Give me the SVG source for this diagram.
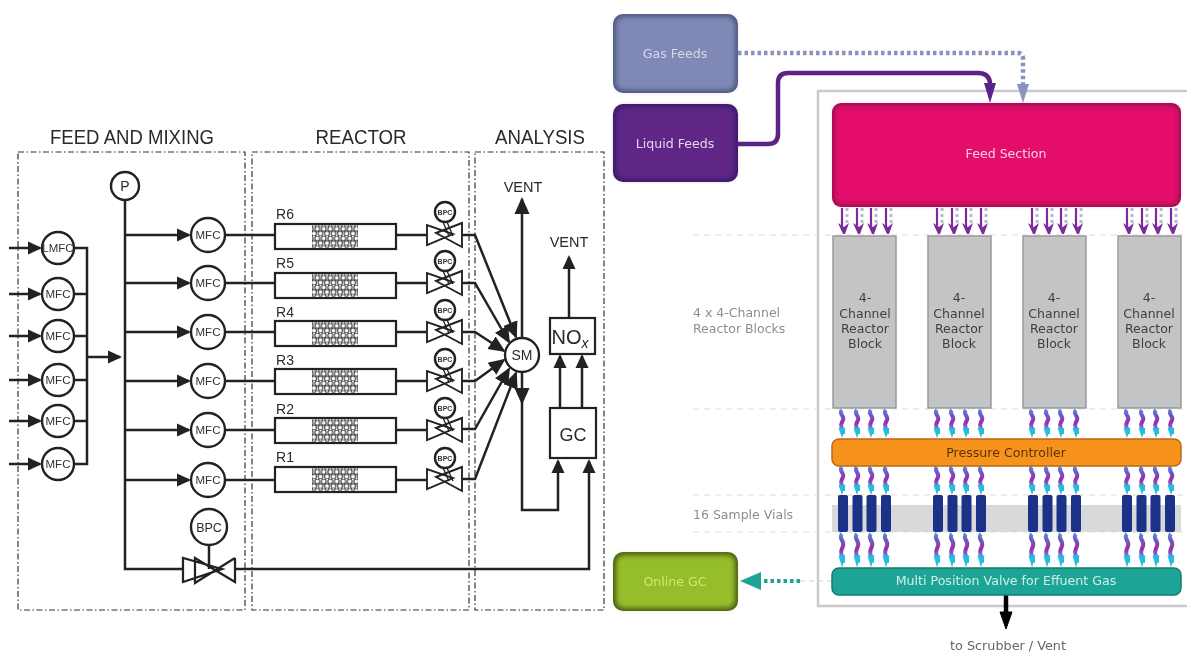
<svg xmlns="http://www.w3.org/2000/svg" width="1187" height="653" viewBox="0 0 1187 653">
<style>
text{font-family:"Liberation Sans",Arial,sans-serif;text-anchor:middle;fill:#2a2a2a}
.r text{font-family:"DejaVu Sans",Verdana,sans-serif}
.zone{fill:none;stroke:#333;stroke-width:1.2;stroke-dasharray:6 2.5 1.5 2.5}
.ln{fill:none;stroke:#222;stroke-width:2.500}
.ar{marker-end:url(#a)}
.at{marker-end:url(#a2)}
.c{fill:#fff;stroke:#222;stroke-width:2.400}
.box{fill:#fff;stroke:#222;stroke-width:2.200}
.h{font-size:20px}
.m{font-size:11.5px;fill:#333}
.tiny{font-size:7px;font-weight:bold;fill:#333}
.lab{font-size:14px}
.gl{fill:none;stroke:#ddd;stroke-width:1;stroke-dasharray:6 5}
.side{font-size:12.500px;fill:#8e8e8e;text-anchor:start}
.blk{fill:#c4c4c6;stroke:#9a9a9c;stroke-width:1.500}
.bt{font-size:12.500px;fill:#404040}
.vial{fill:#1a3288}
.soft{filter:url(#s)}
</style>
<defs>
<filter id="s" x="0" y="0" width="100%" height="100%"><feGaussianBlur stdDeviation="0.450"/></filter>
<filter id="b" x="-10%" y="-10%" width="120%" height="120%"><feGaussianBlur stdDeviation="2.500"/></filter>
<marker id="a" markerUnits="userSpaceOnUse" markerWidth="14" markerHeight="14" refX="12" refY="7" orient="auto"><path d="M0,0.500L14,7L0,13.500Z" fill="#222"/></marker>
<marker id="a2" markerUnits="userSpaceOnUse" markerWidth="17" markerHeight="16" refX="15" refY="8" orient="auto"><path d="M0,0.500L17,8L0,15.500Z" fill="#222"/></marker>
<pattern id="pack" width="6.500" height="9.500" patternUnits="userSpaceOnUse"><rect width="6.500" height="9.500" fill="#fff"/><circle cx="3.250" cy="2.400" r="2.400" fill="#fff" stroke="#444" stroke-width="1.100"/><circle cx="0" cy="7.100" r="2.400" fill="#fff" stroke="#444" stroke-width="1.100"/><circle cx="6.500" cy="7.100" r="2.400" fill="#fff" stroke="#444" stroke-width="1.100"/></pattern>
<linearGradient id="wg" x1="0" y1="0" x2="0" y2="1"><stop offset="0" stop-color="#5a8ad8"/><stop offset=".2" stop-color="#6a5ac8"/><stop offset=".55" stop-color="#a22aa6"/><stop offset=".8" stop-color="#4aa0dc"/><stop offset="1" stop-color="#28bce0"/></linearGradient>
<g id="valve"><path d="M-18,-10V10L8,-1Z M17,-12V12L-9,-2Z" fill="none" stroke="#222" stroke-width="1.900"/></g>
<g id="reactor"><rect x="0" y="-12" width="121" height="25" class="box"/><rect x="37" y="-11" width="46" height="23" fill="url(#pack)"/></g>
<g id="w"><path d="M0,0c-4,4 3,6 1,10c-2,4 -3,6 0,10v4" fill="none" stroke="url(#wg)" stroke-width="4"/><path d="M-3.500,18L0,28L3.500,18Z" fill="#28bce0"/></g>
<g id="w4"><use href="#w"/><use href="#w" x="15"/><use href="#w" x="29"/><use href="#w" x="44"/></g>
<g id="w16"><use href="#w4"/><use href="#w4" x="95"/><use href="#w4" x="190"/><use href="#w4" x="285"/></g>
<g id="p"><path d="M4,0V15" stroke="#b8b8d4" stroke-width="3" stroke-dasharray="3 3" fill="none"/><path d="M-1,0V18" stroke="#7b2a9c" stroke-width="2.200" fill="none"/><path d="M-5,15L1,19L6,15L2,26L0,26Z" fill="#7b2a9c"/></g>
<g id="p4"><use href="#p"/><use href="#p" x="15"/><use href="#p" x="29"/><use href="#p" x="44"/></g>
<g id="p16"><use href="#p4"/><use href="#p4" x="95"/><use href="#p4" x="190"/><use href="#p4" x="285"/></g>
<g id="v4"><rect x="-5" width="10" height="37" rx="2" class="vial"/><rect x="9.500" width="10" height="37" rx="2" class="vial"/><rect x="23.500" width="10" height="37" rx="2" class="vial"/><rect x="38" width="10" height="37" rx="2" class="vial"/></g>
</defs>
<rect width="1187" height="653" fill="#fff"/>
<g class="soft">

<g id="left-titles">
<text x="132" y="144" class="h" textLength="164" lengthAdjust="spacingAndGlyphs">FEED AND MIXING</text>
<text x="361" y="144" class="h" textLength="91" lengthAdjust="spacingAndGlyphs">REACTOR</text>
<text x="540" y="144" class="h" textLength="90" lengthAdjust="spacingAndGlyphs">ANALYSIS</text>
</g>
<g id="zones">
<rect x="18" y="152" width="227" height="458" class="zone"/>
<rect x="252" y="152" width="217" height="458" class="zone"/>
<rect x="475" y="152" width="129" height="458" class="zone"/>
</g>

<g id="connectors-left">
<path class="ln ar" d="M9,248H40"/><path class="ln ar" d="M9,294H40"/><path class="ln ar" d="M9,336H40"/><path class="ln ar" d="M9,380H40"/><path class="ln ar" d="M9,421H40"/><path class="ln ar" d="M9,464H40"/>
<path class="ln" d="M74,248H87V464H74M74,294H87M74,336H87M74,380H87M74,421H87"/>
<path class="ln ar" d="M87,357H120"/>
<path class="ln" d="M125,200V569H183"/>
<path class="ln ar" d="M125,235H189"/><path class="ln ar" d="M125,283H189"/><path class="ln ar" d="M125,332H189"/><path class="ln ar" d="M125,381H189"/><path class="ln ar" d="M125,430H189"/><path class="ln ar" d="M125,480H189"/>
<path class="ln" d="M225,235H275M225,283H275M225,332H275M225,381H275M225,430H275M225,480H275"/>
<path class="ln" d="M396,235H427M396,283H427M396,332H427M396,381H427M396,430H427M396,480H427"/>
<path class="ln at" d="M462,235H475L516,337"/>
<path class="ln at" d="M462,283H475L509,342"/>
<path class="ln at" d="M462,332H475L504,351"/>
<path class="ln at" d="M462,381H475L504,360"/>
<path class="ln at" d="M462,429H475L509,369"/>
<path class="ln at" d="M462,479H475L516,373"/>
<path class="ln at" d="M522,338V199"/>
<path class="ln at" d="M522,372V403"/>
<path class="ln ar" d="M522,403V510H558V461"/>
<path class="ln ar" d="M235,569H589V461"/>
<path class="ln ar" d="M560,408V356"/><path class="ln ar" d="M582,408V356"/>
<path class="ln ar" d="M569,318V257"/>
<path d="M209,545V569" class="ln"/>
<path d="M443,222L449,236M443,271L449,284M443,320L449,333M443,369L449,382M443,418L449,431M443,468L449,481M447,222L453,236M447,271L453,284M447,320L453,333M447,369L453,382M447,418L453,431M447,468L453,481" stroke="#222" stroke-width="1.300" fill="none"/>
</g>

<g id="MFC-in"><circle cx="58" cy="248" r="16" class="c"/><text x="58" y="252" class="m">LMFC</text>
<circle cx="58" cy="294" r="16" class="c"/><text x="58" y="298" class="m">MFC</text>
<circle cx="58" cy="336" r="16" class="c"/><text x="58" y="340" class="m">MFC</text>
<circle cx="58" cy="380" r="16" class="c"/><text x="58" y="384" class="m">MFC</text>
<circle cx="58" cy="421" r="16" class="c"/><text x="58" y="425" class="m">MFC</text>
<circle cx="58" cy="464" r="16" class="c"/><text x="58" y="468" class="m">MFC</text></g>
<g id="P"><circle cx="125" cy="186" r="14" class="c"/><text x="125" y="191" class="lab">P</text></g>
<g id="MFC-out"><circle cx="208" cy="235" r="17" class="c"/><text x="208" y="239" class="m">MFC</text>
<circle cx="208" cy="283" r="17" class="c"/><text x="208" y="287" class="m">MFC</text>
<circle cx="208" cy="332" r="17" class="c"/><text x="208" y="336" class="m">MFC</text>
<circle cx="208" cy="381" r="17" class="c"/><text x="208" y="385" class="m">MFC</text>
<circle cx="208" cy="430" r="17" class="c"/><text x="208" y="434" class="m">MFC</text>
<circle cx="208" cy="480" r="17" class="c"/><text x="208" y="484" class="m">MFC</text></g>
<g id="reactors">
<use href="#reactor" x="275" y="236"/><text x="285" y="219" class="lab">R6</text>
<use href="#reactor" x="275" y="285"/><text x="285" y="268" class="lab">R5</text>
<use href="#reactor" x="275" y="333"/><text x="285" y="317" class="lab">R4</text>
<use href="#reactor" x="275" y="381"/><text x="285" y="365" class="lab">R3</text>
<use href="#reactor" x="275" y="430"/><text x="285" y="414" class="lab">R2</text>
<use href="#reactor" x="275" y="479"/><text x="285" y="462" class="lab">R1</text>
</g>
<g id="BPC-valves">
<use href="#valve" x="445" y="235"/><circle cx="445" cy="212" r="10" class="c"/><text x="445" y="215" class="tiny">BPC</text>
<use href="#valve" x="445" y="283"/><circle cx="445" cy="261" r="10" class="c"/><text x="445" y="264" class="tiny">BPC</text>
<use href="#valve" x="445" y="332"/><circle cx="445" cy="310" r="10" class="c"/><text x="445" y="313" class="tiny">BPC</text>
<use href="#valve" x="445" y="381"/><circle cx="445" cy="359" r="10" class="c"/><text x="445" y="362" class="tiny">BPC</text>
<use href="#valve" x="445" y="430"/><circle cx="445" cy="408" r="10" class="c"/><text x="445" y="411" class="tiny">BPC</text>
<use href="#valve" x="445" y="479"/><circle cx="445" cy="458" r="10" class="c"/><text x="445" y="461" class="tiny">BPC</text>
</g>
<g id="BPC-main"><path d="M183,558V582L222,569Z M235,558V582L195,558V583L235,558" fill="none" stroke="#222" stroke-width="2.200"/><circle cx="209" cy="527" r="18" class="c"/><text x="209" y="532" font-size="12.500" fill="#333">BPC</text></g>
<g id="SM"><circle cx="522" cy="355" r="17" class="c"/><text x="522" y="360" class="lab">SM</text></g>
<g id="GC"><rect x="550" y="408" width="46" height="50" class="box"/><text x="573" y="441" font-size="18">GC</text></g>
<g id="NOx"><rect x="550" y="318" width="45" height="36" class="box"/><text x="570" y="344" font-size="20">NO<tspan font-size="14" font-style="italic" dy="4">x</tspan></text></g>
<g id="vents"><text x="523" y="192" font-size="14.500">VENT</text><text x="569" y="247" font-size="14.500">VENT</text></g>

<g id="frame"><rect x="818" y="91" width="380" height="515" fill="#fff" stroke="#c9c9c9" stroke-width="2.500"/></g>
<g id="guides">
<rect x="832" y="505" width="349" height="27" fill="#d9d9db"/>
<path class="gl" d="M693,235H1187M693,409H1187M693,495H1187M693,532H1187"/>
</g>

<g id="connectors-right">
<path d="M738,144H768Q778,144 778,134V83Q778,73 788,73H978Q989,73 990,83V90" fill="none" stroke="#5b2287" stroke-width="4.500"/>
<path d="M984,83H996L990,103Z" fill="#5b2287"/>
<path d="M738,53H1018Q1023,53 1023,59V86" fill="none" stroke="#8a92bf" stroke-width="4.500" stroke-dasharray="3.500 3"/>
<path d="M1017,84H1029L1023,103Z" fill="#8a92bf"/>
<use href="#p16" x="843" y="208"/>
<use href="#w16" x="842" y="410"/>
<use href="#w16" x="842" y="467"/>
<use href="#w16" transform="translate(842,534) scale(1,1.200)"/>
<path d="M832,581H786" stroke="#c4d8d5" stroke-width="1" stroke-dasharray="5 4" fill="none"/>
<path d="M800,581H762" stroke="#1fa597" stroke-width="4" stroke-dasharray="3.500 3" fill="none"/>
<path d="M761,572V590L740,581Z" fill="#1fa597"/>
<path d="M1006,595V615" stroke="#000" stroke-width="4.500" fill="none"/>
<path d="M1000,612H1012L1006,629Z" fill="#000" stroke="#000"/>
</g>

<g id="gas-feeds" class="r"><rect x="613" y="14" width="125" height="79" rx="10" fill="#4d5782"/><rect x="616" y="17" width="119" height="73" rx="8" fill="#8089b5" filter="url(#b)"/><text x="675" y="58" font-size="12.600" style="fill:#d4d8ea">Gas Feeds</text></g>
<g id="liquid-feeds" class="r"><rect x="613" y="104" width="125" height="78" rx="10" fill="#3a1a6b"/><rect x="616" y="107" width="119" height="72" rx="8" fill="#5e2585" filter="url(#b)"/><text x="675" y="148" font-size="12.600" style="fill:#e3d4ee">Liquid Feeds</text></g>
<g id="feed-section" class="r"><rect x="832" y="103" width="349" height="104" rx="9" fill="#a01050"/><rect x="835" y="106" width="343" height="98" rx="7" fill="#e4106c" filter="url(#b)"/><text x="1006" y="158" font-size="12.600" style="fill:#f8d0e0">Feed Section</text></g>

<g id="reactor-blocks" class="r">
<rect x="833" y="236" width="63" height="172" class="blk"/><text x="865" y="302" class="bt">4-</text><text x="865" y="318" class="bt">Channel</text><text x="865" y="333" class="bt">Reactor</text><text x="865" y="348" class="bt">Block</text>
<rect x="928" y="236" width="63" height="172" class="blk"/><text x="959" y="302" class="bt">4-</text><text x="959" y="318" class="bt">Channel</text><text x="959" y="333" class="bt">Reactor</text><text x="959" y="348" class="bt">Block</text>
<rect x="1023" y="236" width="63" height="172" class="blk"/><text x="1054" y="302" class="bt">4-</text><text x="1054" y="318" class="bt">Channel</text><text x="1054" y="333" class="bt">Reactor</text><text x="1054" y="348" class="bt">Block</text>
<rect x="1118" y="236" width="63" height="172" class="blk"/><text x="1149" y="302" class="bt">4-</text><text x="1149" y="318" class="bt">Channel</text><text x="1149" y="333" class="bt">Reactor</text><text x="1149" y="348" class="bt">Block</text>
</g>
<g id="pressure-controller" class="r"><rect x="832" y="439" width="349" height="27" rx="7" fill="#f7931e" stroke="#b86a10" stroke-width="1.500"/><text x="1006" y="457" font-size="12.600" style="fill:#5a3206">Pressure Controller</text></g>
<g id="sample-vials"><use href="#v4" x="843" y="495"/><use href="#v4" x="938" y="495"/><use href="#v4" x="1033" y="495"/><use href="#v4" x="1127" y="495"/></g>
<g id="multi-valve" class="r"><rect x="832" y="568" width="349" height="27" rx="7" fill="#1fa597" stroke="#127a70" stroke-width="1.500"/><text x="1006" y="585" font-size="12.600" style="fill:#cdeee8">Multi Position Valve for Effuent Gas</text></g>
<g id="online-gc" class="r"><rect x="613" y="552" width="125" height="59" rx="10" fill="#4a5c12"/><rect x="616" y="555" width="119" height="53" rx="8" fill="#96bd2a" filter="url(#b)"/><text x="675" y="586" font-size="12.600" style="fill:#d6e66c">Online GC</text></g>
<g id="right-labels" class="r">
<text x="693" y="317" class="side">4 x 4-Channel</text>
<text x="693" y="333" class="side">Reactor Blocks</text>
<text x="693" y="519" class="side">16 Sample Vials</text>
<text x="1008" y="650" font-size="12.800" style="fill:#666">to Scrubber / Vent</text>
</g>
</g>
</svg>
